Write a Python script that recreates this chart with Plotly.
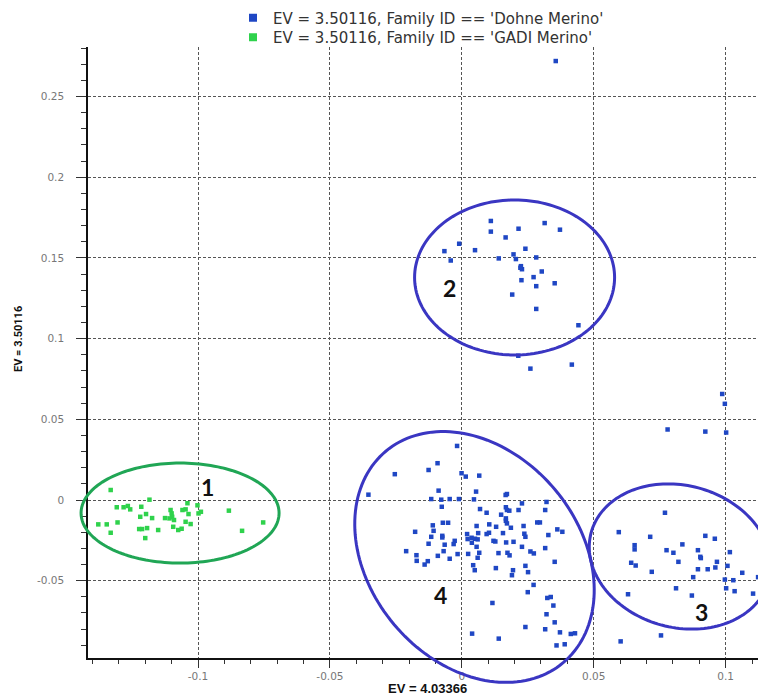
import plotly.graph_objects as go
import math

# ---------------- data ----------------
gadi_x = [-0.1331, -0.1184, -0.1308, -0.1282, -0.1266, -0.1257, -0.1215, -0.1378, -0.1346, -0.1305,
          -0.1331, -0.1219, -0.1197, -0.1174, -0.1223, -0.1212, -0.1193, -0.1200, -0.1151, -0.1104,
          -0.1100, -0.1098, -0.1091, -0.1108, -0.1125, -0.1059, -0.1047, -0.1040, -0.1036, -0.1047,
          -0.1028, -0.1094, -0.1075, -0.1062, -0.1002, -0.0998, -0.0989, -0.0883, -0.0833, -0.0753]
gadi_y = [0.0062, 0.0002, -0.0045, -0.0045, -0.0037, -0.0058, -0.0042, -0.0151, -0.0151, -0.0139,
          -0.0203, -0.0104, -0.0087, -0.0112, -0.0180, -0.0180, -0.0174, -0.0236, -0.0186, -0.0062,
          -0.0083, -0.0104, -0.0124, -0.0114, -0.0112, -0.0062, -0.0058, -0.0020, -0.0087, -0.0135,
          -0.0149, -0.0166, -0.0186, -0.0178, -0.0033, -0.0083, -0.0073, -0.0066, -0.0191, -0.0139]

# cluster 2 + isolated upper points
dohne_x_upper = [0.0110, 0.0110, 0.0215, 0.0314, 0.0372, 0.0166, -0.0010, -0.0066, -0.0042, 0.0050,
                 0.0241, 0.0196, 0.0205, 0.0140, 0.0282, 0.0224, 0.0228, 0.0222, 0.0303, 0.0226,
                 0.0272, 0.0282, 0.0352, 0.0191, 0.0282, 0.0442,
                 0.0356, 0.0214, 0.0260, 0.0417, 0.0987, 0.0997, 0.0780, 0.0923, 0.1002]
dohne_y_upper = [0.1729, 0.1663, 0.1681, 0.1716, 0.1675, 0.1627, 0.1588, 0.1542, 0.1484, 0.1548,
                 0.1557, 0.1522, 0.1493, 0.1497, 0.1503, 0.1449, 0.1430, 0.1439, 0.1416, 0.1362,
                 0.1381, 0.1325, 0.1343, 0.1273, 0.1184, 0.1083,
                 0.2720, 0.0894, 0.0814, 0.0839, 0.0657, 0.0596, 0.0437, 0.0424, 0.0418]

# cluster 3
dohne_x_c3 = [0.0770, 0.0595, 0.0714, 0.0655, 0.0655, 0.0776, 0.0802, 0.0836, 0.0923, 0.0959,
              0.0895, 0.0904, 0.0906, 0.0821, 0.1016, 0.0967, 0.0642, 0.0659, 0.0720, 0.0895,
              0.0932, 0.0961, 0.1007, 0.0877, 0.0997, 0.1029, 0.1063, 0.1123, 0.1002, 0.1034,
              0.1104, 0.0812, 0.0872, 0.0630, 0.0755, 0.0602]
dohne_y_c3 = [-0.0079, -0.0199, -0.0228, -0.0280, -0.0306, -0.0311, -0.0327, -0.0275, -0.0222, -0.0240,
              -0.0311, -0.0352, -0.0360, -0.0383, -0.0323, -0.0383, -0.0389, -0.0406, -0.0445, -0.0429,
              -0.0429, -0.0418, -0.0408, -0.0478, -0.0493, -0.0497, -0.0451, -0.0478, -0.0547, -0.0565,
              -0.0580, -0.0547, -0.0592, -0.0584, -0.0839, -0.0876]

# cluster 4
dohne_x_c4 = [-0.0018, -0.0092, -0.0126, -0.0254, -0.0001, 0.0015, 0.0066, -0.0354, -0.0088, 0.0054,
              0.0171, 0.0166, -0.0116, -0.0078, -0.0046, -0.0011, 0.0046, -0.0076, 0.0228, 0.0321,
              0.0167, 0.0171, 0.0180, 0.0069, 0.0094, 0.0215, 0.0316, 0.0149, 0.0167, 0.0167,
              0.0171, -0.0072, -0.0052, -0.0110, 0.0056, 0.0104, 0.0130, 0.0186, 0.0234, 0.0286,
              0.0296, 0.0362, 0.0381, -0.0177, -0.0107, -0.0074, -0.0074, -0.0116, 0.0020, 0.0062,
              0.0094, 0.0103, 0.0156, 0.0237, 0.0241, 0.0328, 0.0022, 0.0037, 0.0050, 0.0060,
              0.0120, 0.0127, 0.0168, 0.0196, -0.0126, -0.0027, -0.0031, -0.0065, 0.0038, 0.0056,
              0.0228, 0.0316, -0.0211, -0.0069, -0.0016, 0.0024, 0.0066, 0.0139, 0.0173, 0.0181,
              0.0260, 0.0273, -0.0172, -0.0171, -0.0091, -0.0046, -0.0129, -0.0141, 0.0060, 0.0352,
              0.0043, 0.0049, 0.0129, 0.0194, 0.0190, 0.0241, 0.0251, 0.0272, 0.0250, 0.0116,
              0.0324, 0.0337, 0.0347, 0.0321, 0.0352, 0.0241, 0.0316, 0.0372, 0.0413, 0.0429,
              0.0039, 0.0140, 0.0359, 0.0390]
dohne_y_c4 = [0.0335, 0.0228, 0.0186, 0.0160, 0.0166, 0.0145, 0.0151, 0.0033, 0.0058, 0.0052,
              0.0037, 0.0031, 0.0006, 0.0002, 0.0006, 0.0006, 0.0004, -0.0042, -0.0021, -0.0012,
              -0.0045, -0.0062, -0.0066, -0.0056, -0.0079, -0.0062, -0.0062, -0.0091, -0.0114, -0.0129,
              -0.0145, -0.0141, -0.0141, -0.0157, -0.0161, -0.0151, -0.0166, -0.0172, -0.0161, -0.0139,
              -0.0139, -0.0182, -0.0197, -0.0197, -0.0191, -0.0222, -0.0232, -0.0228, -0.0211, -0.0205,
              -0.0211, -0.0203, -0.0205, -0.0209, -0.0228, -0.0217, -0.0242, -0.0234, -0.0240, -0.0244,
              -0.0253, -0.0257, -0.0263, -0.0259, -0.0271, -0.0253, -0.0273, -0.0277, -0.0265, -0.0290,
              -0.0290, -0.0298, -0.0317, -0.0317, -0.0335, -0.0334, -0.0327, -0.0329, -0.0327, -0.0343,
              -0.0319, -0.0331, -0.0342, -0.0377, -0.0346, -0.0364, -0.0379, -0.0400, -0.0358, -0.0383,
              -0.0404, -0.0435, -0.0422, -0.0435, -0.0466, -0.0408, -0.0447, -0.0526, -0.0571, -0.0638,
              -0.0607, -0.0601, -0.0654, -0.0708, -0.0758, -0.0787, -0.0801, -0.0820, -0.0830, -0.0826,
              -0.0828, -0.0859, -0.0901, -0.0894]

series_names = ["EV = 3.50116, Family ID == 'Dohne Merino'",
                "EV = 3.50116, Family ID == 'GADI Merino'"]

x_tick_vals = [-0.1, -0.05, 0, 0.05, 0.1]
x_tick_text = ["-0.1", "-0.05", "0", "0.05", "0.1"]
y_tick_vals = [-0.05, 0, 0.05, 0.1, 0.15, 0.2, 0.25]
y_tick_text = ["-0.05", "0", "0.05", "0.1", "0.15", "0.2", "0.25"]

x_title = "EV = 4.03366"
y_title = "EV = 3.50116"

cluster_labels = ["1", "2", "3", "4"]
cluster_label_x = [-0.0964, -0.0046, 0.0910, -0.0080]
cluster_label_y = [0.0081, 0.1311, -0.0696, -0.0590]

# ---------------- layout / style ----------------
OFF = 8                      # page body margin of the html page
W, H = 766 - OFF, 695 - OFF
ML, MR, MT, MB = 88 - OFF, 0, 47 - OFF, 37
XR = [-0.1417, 0.1153]
YR = [-0.0979, 0.2807]
PW, PH = W - ML - MR, H - MT - MB

BLUE = "#1f47c4"
GREEN = "#2fd24c"
ELL_BLUE = "#3a36c2"
ELL_GREEN = "#20a655"

dohne_x = dohne_x_upper + dohne_x_c3 + dohne_x_c4
dohne_y = dohne_y_upper + dohne_y_c3 + dohne_y_c4

fig = go.Figure()
fig.add_trace(go.Scatter(x=dohne_x, y=dohne_y, mode="markers", showlegend=False,
                         marker=dict(symbol="square", size=4.5, color=BLUE, line=dict(width=0))))
fig.add_trace(go.Scatter(x=gadi_x, y=gadi_y, mode="markers", showlegend=False,
                         marker=dict(symbol="square", size=4.5, color=GREEN, line=dict(width=0))))
# legend entries (one legend per row so the row spacing can match)
fig.add_trace(go.Scatter(x=[None], y=[None], mode="markers", name=series_names[0], legend="legend",
                         marker=dict(symbol="square", size=8, color=BLUE)))
fig.add_trace(go.Scatter(x=[None], y=[None], mode="markers", name=series_names[1], legend="legend2",
                         marker=dict(symbol="square", size=8, color=GREEN)))

# cluster ellipses (center in data units, semi-axes in px, rotation clockwise on screen)
ellipses = [
    dict(cx=-0.1068, cy=-0.0081, a=99, b=50, ang=0, color=ELL_GREEN),
    dict(cx=0.0200, cy=0.1379, a=100, b=77.5, ang=0, color=ELL_BLUE),
    dict(cx=0.0827, cy=-0.0350, a=92, b=71, ang=15, color=ELL_BLUE),
    dict(cx=0.0048, cy=-0.0353, a=138, b=105, ang=50, color=ELL_BLUE),
]

def to_paper(x, y):
    return (x - XR[0]) / (XR[1] - XR[0]), (y - YR[0]) / (YR[1] - YR[0])

def page_to_paper(px, py):
    # page pixel (reference image coords) -> paper fraction
    return (px - OFF - ML) / PW, ((H - MB) - (py - OFF)) / PH

def page_to_container(px, py):
    return (px - OFF) / W, 1 - (py - OFF) / H

shapes = []
for e in ellipses:
    pcx, pcy = to_paper(e["cx"], e["cy"])
    th = math.radians(e["ang"])
    pts = []
    n = 160
    for i in range(n):
        t = 2 * math.pi * i / n
        dx = e["a"] * math.cos(t) * math.cos(th) - e["b"] * math.sin(t) * math.sin(th)
        dy = e["a"] * math.cos(t) * math.sin(th) + e["b"] * math.sin(t) * math.cos(th)  # screen down
        pts.append((pcx + dx / PW, pcy - dy / PH))
    path = "M " + " L ".join(f"{px:.5f},{py:.5f}" for px, py in pts) + " Z"
    shapes.append(dict(type="path", xref="paper", yref="paper", path=path,
                       line=dict(color=e["color"], width=3), layer="above"))

annotations = []
for t, x, y in zip(cluster_labels, cluster_label_x, cluster_label_y):
    annotations.append(dict(x=x, y=y, xref="x", yref="y", text=f"<b>{t}</b>", showarrow=False,
                            xanchor="center", yanchor="middle",
                            font=dict(family="Lato, Liberation Sans", size=23, color="#111")))
tx, ty = page_to_paper(427, 688)
annotations.append(dict(x=tx, y=ty, xref="paper", yref="paper", xanchor="center", yanchor="middle",
                        text=f"<b>{x_title}</b>", showarrow=False,
                        font=dict(family="Liberation Sans, Arial", size=13, color="#111")))
tx, ty = page_to_paper(18, 339)
annotations.append(dict(x=tx, y=ty, xref="paper", yref="paper", xanchor="center", yanchor="middle",
                        text=f"<b>{y_title}</b>", showarrow=False, textangle=-90,
                        font=dict(family="Roboto, Liberation Sans", size=11, color="#111")))

axis_common = dict(showgrid=True, gridcolor="#555", gridwidth=1, griddash="3px,2px",
                   zeroline=False, showline=True, linecolor="#111", linewidth=1.5,
                   ticks="outside", tickcolor="#333", tickwidth=1,
                   tickfont=dict(family="DejaVu Sans", size=10.5, color="#777"))

legend_font = dict(family="DejaVu Sans", size=15, color="#333")
lx, ly1 = page_to_container(233, 18)
_, ly2 = page_to_container(233, 37.5)
fig.update_layout(
    width=W, height=H, autosize=False,
    margin=dict(l=ML, r=MR, t=MT, b=MB, pad=0, autoexpand=False),
    paper_bgcolor="white", plot_bgcolor="white",
    shapes=shapes, annotations=annotations,
    legend=dict(x=lx, xanchor="left", y=ly1, yanchor="middle", xref="container", yref="container",
                bgcolor="rgba(0,0,0,0)", font=legend_font, itemwidth=30),
    legend2=dict(x=lx, xanchor="left", y=ly2, yanchor="middle", xref="container", yref="container",
                 bgcolor="rgba(0,0,0,0)", font=legend_font, itemwidth=30),
    xaxis=dict(range=XR, tickvals=x_tick_vals, ticktext=x_tick_text, ticklen=8,
               minor=dict(dtick=0.01, tick0=0, ticks="outside", ticklen=4, tickcolor="#333", showgrid=False),
               **axis_common),
    yaxis=dict(range=YR, tickvals=y_tick_vals, ticktext=y_tick_text, ticklen=10, ticklabelstandoff=10,
               minor=dict(dtick=0.01, tick0=0, ticks="outside", ticklen=5, tickcolor="#333", showgrid=False),
               **axis_common),
)

fig.write_html("out.html")
